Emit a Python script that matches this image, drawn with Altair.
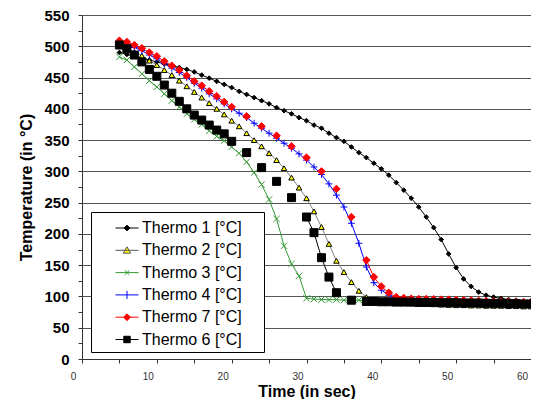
import altair as alt
import pandas as pd

times = list(range(5, 61))
series_names = ["Thermo 1 [°C]", "Thermo 2 [°C]", "Thermo 3 [°C]",
                "Thermo 4 [°C]", "Thermo 7 [°C]", "Thermo 6 [°C]"]

thermo1 = [490, 487, 484, 481, 478, 475, 472, 469, 466, 463, 459, 454, 449, 444, 439, 434,
           428, 423, 418, 413, 408, 402, 397, 392, 386, 381, 374, 369, 361, 354, 348, 339,
           330, 322, 313, 304, 294, 282, 270, 257, 243, 227, 210, 191, 168, 146, 128, 116,
           107, 102, 99, 97, 95, 94, 93, 93]
thermo2 = [503, 497, 491, 485, 477, 470, 462, 454, 445, 436, 427, 418, 409, 400, 391, 381,
           372, 361, 350, 340, 329, 318, 305, 290, 274, 257, 236, 211, 184, 157, 139, 123,
           109, 99, 94, 92, 91, 90, 89.5, 89, 88.5, 88, 87.5, 87, 86.5, 86, 86, 85.5,
           85.5, 85, 85, 85, 84.5, 84.5, 84, 84]
thermo3 = [483, 478, 467, 456, 445, 435, 424, 413, 403, 392, 383, 375, 365, 356, 349, 339,
           329, 315, 298, 279, 255, 224, 181, 152, 133, 97, 96, 95, 95, 95, 94, 94,
           94, 93, 93, 93, 92.5, 92.5, 92, 92, 92, 91.5, 91.5, 91, 91, 91, 90.5, 90.5,
           90, 90, 90, 89.5, 89.5, 89, 89, 89]
thermo4 = [505, 503, 498, 493, 486, 480, 472, 465, 458, 450, 441, 433, 424, 416, 408, 400,
           393, 386, 377, 369, 361, 353, 345, 337, 328, 318, 307, 295, 280, 262, 243, 217,
           185, 147, 122, 110, 102, 97, 95, 94, 94, 93.5, 93.5, 93, 93, 92.5, 92, 92,
           91.5, 91.5, 91, 91, 90.5, 90.5, 90, 90]
thermo7 = [509, 507, 502, 497, 490, 484, 476, 469, 462, 453, 444, 437, 428, 420, 411, 403,
           None, 388, None, 372, None, 357, None, 340, None, 322, None, 300, None, 272, None, 227,
           None, 158, 131, 116, 106, 99, 97.5, 96.5, 96, 96, 95.5, 95, 95, 94.5, 94, 93.5,
           93, 92.5, 92, 92, 91.5, 91, 91, 90.5]
thermo6 = [502, 496, 486, 475, 463, 452, 438, 425, 412, 400, 390, 382, 374, 366, 360, 348,
           None, 330, None, 306, None, 284, None, 258, None, 227, 202, 162, 131, 106, None, 94,
           None, 92, 92, 91.5, 91.5, 91, 91, 91, 90.5, 90.5, 90.5, 90, 90, 90, 89.5, 89.5,
           89.5, 89, 89, 89, 88.5, 88.5, 88, 88]

line_colors = ["#000000", "#808080", "#339933", "#0000ff", "#ff0000", "#000000"]
marker_shapes = ["diamond", "triangle-up", "M-1,-1L1,1M-1,1L1,-1", "M-1,0H1M0,-1V1",
                 "diamond", "square"]
marker_fills = ["#000000", "#ffff00", "transparent", "transparent", "#ff0000", "#000000"]
marker_strokes = ["#000000", "#000000", "#339933", "#0000ff", "#ff0000", "#000000"]
marker_sizes = [22, 64, 30, 64, 64, 64]

# legend glyphs: a short line with the series marker in its middle; the trailing
# move-to only widens the legend frame to the original's width (nothing is drawn there)
frame_end = "M11.35,0"
legend_paths = [
    "M-1,0H1M0,-0.25L0.25,0L0,0.25L-0.25,0Z" + frame_end,
    "M-1,0H1M0,-0.3L0.32,0.25L-0.32,0.25Z" + frame_end,
    "M-1,0H1M-0.2,-0.2L0.2,0.2M-0.2,0.2L0.2,-0.2" + frame_end,
    "M-1,0H1M0,-0.35V0.35" + frame_end,
    "M-1,0H1M0,-0.3L0.3,0L0,0.3L-0.3,0Z" + frame_end,
    "M-1,0H1M-0.28,-0.28H0.28V0.28H-0.28Z" + frame_end,
]
legend_fills = ["#000000", "#ffff00", "transparent", "transparent", "#ff0000", "#000000"]
legend_strokes = ["#000000", "#555555", "#339933", "#0000ff", "#ff0000", "#000000"]

rows = []
for name, vals in zip(series_names, [thermo1, thermo2, thermo3, thermo4, thermo7, thermo6]):
    for t, v in zip(times, vals):
        rows.append({"series": name, "time": t, "temp": v})
df = pd.DataFrame(rows)

FONT = "Arial, Liberation Sans, sans-serif"

x_enc = alt.X(
    "time:Q",
    scale=alt.Scale(domain=[0, 60], nice=False, zero=False),
    axis=alt.Axis(
        values=list(range(0, 61, 5)),
        labelExpr="datum.value % 10 == 0 ? datum.label : ''",
        title="Time (in sec)",
        grid=False,
        labelFont=FONT, labelFontSize=10, labelColor="#333333",
        labelOffset=-9, labelPadding=8, labelFlush=False, labelOverlap=False,
        tickSize=4, tickColor="#333333", domainColor="#333333",
        titleFont=FONT, titleFontSize=16, titleFontWeight="bold", titleColor="black",
        titlePadding=2,
    ),
)
y_enc = alt.Y(
    "temp:Q",
    scale=alt.Scale(domain=[0, 550], nice=False),
    axis=alt.Axis(
        values=list(range(0, 551, 25)),
        labelExpr="datum.value % 50 == 0 ? datum.label : ''",
        title="Temperature (in °C)",
        grid=True, gridColor="#555555",
        gridOpacity={"condition": {"test": "datum.value % 50 != 0", "value": 0}, "value": 1},
        labelFont=FONT, labelFontSize=15, labelFontWeight="bold", labelColor="black",
        labelPadding=9, tickSize=4, tickColor="#333333", domainColor="#333333",
        titleFont=FONT, titleFontSize=16, titleFontWeight="bold", titleColor="black",
        titlePadding=9,
    ),
)

base = alt.Chart(df)

lines = base.mark_line(strokeWidth=1).encode(
    x=x_enc, y=y_enc,
    color=alt.Color("series:N", scale=alt.Scale(domain=series_names, range=line_colors), legend=None),
)

points = base.mark_point(opacity=1, strokeWidth=1).encode(
    x=x_enc, y=y_enc,
    shape=alt.Shape("series:N", scale=alt.Scale(domain=series_names, range=marker_shapes), legend=None),
    fill=alt.Fill("series:N", scale=alt.Scale(domain=series_names, range=marker_fills), legend=None),
    stroke=alt.Stroke("series:N", scale=alt.Scale(domain=series_names, range=marker_strokes), legend=None),
    size=alt.Size("series:N", scale=alt.Scale(domain=series_names, range=marker_sizes), legend=None),
)

leg = alt.Legend(
    orient="none", legendX=9, legendY=197, title=None,
    fillColor="white", strokeColor="black", padding=4, rowPadding=2.3,
    labelFont=FONT, labelFontSize=16, labelColor="black", labelLimit=400,
    symbolSize=529, symbolStrokeWidth=1, symbolOffset=20, labelOffset=3,
)

legend_layer = alt.Chart(df).transform_filter("false").mark_point(opacity=1, strokeWidth=1).encode(
    shape=alt.Shape("series:N", scale=alt.Scale(domain=series_names, range=legend_paths), legend=leg),
    fill=alt.Fill("series:N", scale=alt.Scale(domain=series_names, range=legend_fills), legend=leg),
    stroke=alt.Stroke("series:N", scale=alt.Scale(domain=series_names, range=legend_strokes), legend=leg),
)

chart = alt.layer(lines, points, legend_layer).resolve_scale(
    shape="independent", fill="independent", stroke="independent"
).properties(
    width=449, height=344,
    padding={"left": 74, "top": 7, "right": 0, "bottom": 40},
    autosize=alt.AutoSizeParams(type="none"),
).configure_view(stroke=None)

chart.save("out.html", embed_options={"renderer": "svg", "actions": False})
